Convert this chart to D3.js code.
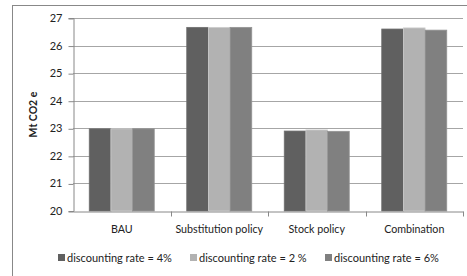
<!DOCTYPE html>
<html>
<head>
<meta charset="utf-8">
<script src="https://cdn.jsdelivr.net/npm/d3@7"></script>
<style>
  body { margin: 0; background: #fff; }
  svg { display: block; font-family: Lato, "Open Sans", sans-serif; }
</style>
</head>
<body>
<div id="vis"></div>
<script>
var categories = ['BAU', 'Substitution policy', 'Stock policy', 'Combination'];
var seriesNames = ['discounting rate = 4%', 'discounting rate = 2 %', 'discounting rate = 6%'];
var rate4 = [22.98, 26.66, 22.90, 26.60];
var rate2 = [22.98, 26.66, 22.94, 26.64];
var rate6 = [22.98, 26.66, 22.89, 26.56];
var yTicks = [20, 21, 22, 23, 24, 25, 26, 27];

var colors = ['#606060', '#b2b2b2', '#808080'];
var seriesValues = [rate4, rate2, rate6];

var width = 467, height = 276;
var margin = { top: 18, left: 73, right: 4, bottom: 65 };

var svg = d3.select('#vis').append('svg')
  .attr('width', width)
  .attr('height', height);

// outer chart frame (right/bottom edges fall outside the crop)
svg.append('rect')
  .attr('x', 12.5).attr('y', 5.5)
  .attr('width', 470).attr('height', 290)
  .attr('fill', 'none')
  .attr('stroke', '#888');

var x0 = d3.scaleBand()
  .domain(categories)
  .range([margin.left, width - margin.right]);

var barW = x0.bandwidth() / 4.5;
var x1 = d3.scaleBand()
  .domain(d3.range(3))
  .range([0, barW * 3]);

var y = d3.scaleLinear()
  .domain([20, 27])
  .range([height - margin.bottom, margin.top]);

// gridlines
svg.append('g')
  .selectAll('line')
  .data(yTicks.slice(1))
  .enter().append('line')
  .attr('x1', margin.left).attr('x2', width - margin.right)
  .attr('y1', function (d) { return Math.round(y(d)) + 0.5; })
  .attr('y2', function (d) { return Math.round(y(d)) + 0.5; })
  .attr('stroke', '#a6a6a6');

// y axis
var yAxis = svg.append('g')
  .attr('transform', 'translate(' + (margin.left + 0.5) + ',0)')
  .call(d3.axisLeft(y).tickValues(yTicks).tickSize(5).tickPadding(6).tickFormat(d3.format('d')));
yAxis.select('.domain').attr('stroke', '#888');
yAxis.selectAll('.tick line').attr('stroke', '#888')
  .attr('transform', 'translate(0,0.5)');
yAxis.selectAll('text').attr('font-size', 11).attr('fill', '#222')
  .attr('font-family', 'Lato, sans-serif');

// bars
var groups = svg.append('g')
  .selectAll('g')
  .data(categories)
  .enter().append('g')
  .attr('transform', function (d) {
    return 'translate(' + (x0(d) + (x0.bandwidth() - barW * 3) / 2) + ',0)';
  });

groups.selectAll('rect')
  .data(function (d, i) {
    return seriesValues.map(function (s, k) { return { k: k, v: s[i] }; });
  })
  .enter().append('rect')
  .attr('x', function (d) { return x1(d.k); })
  .attr('width', x1.bandwidth())
  .attr('y', function (d) { return y(d.v); })
  .attr('height', function (d) { return y(20) - y(d.v); })
  .attr('fill', function (d) { return colors[d.k]; })
  .attr('stroke', function (d) { return d3.rgb(colors[d.k]).brighter(0.4); })
  .attr('stroke-width', 0.8);

// x axis
var xAxis = svg.append('g')
  .attr('transform', 'translate(0,' + (y(20) + 0.5) + ')')
  .call(d3.axisBottom(x0).tickSize(0).tickPadding(14));
xAxis.select('.domain').attr('stroke', '#888');
xAxis.selectAll('text').attr('font-size', 10.7).attr('fill', '#222')
  .attr('font-family', 'Lato, sans-serif');
xAxis.selectAll('.sep')
  .data(categories)
  .enter().append('line')
  .attr('x1', function (d) { return Math.round(x0(d) + x0.bandwidth()) + 0.5; })
  .attr('x2', function (d) { return Math.round(x0(d) + x0.bandwidth()) + 0.5; })
  .attr('y1', 0).attr('y2', 5)
  .attr('stroke', '#888');

// y label
svg.append('text')
  .attr('transform', 'translate(37,' + y(23.5) + ') rotate(-90)')
  .attr('text-anchor', 'middle')
  .attr('font-size', 10.5)
  .attr('font-weight', 'bold')
  .attr('fill', '#222')
  .text('Mt CO2 e');

// legend
var legendX = [58, 190, 325];
var legend = svg.append('g')
  .selectAll('g')
  .data(seriesNames)
  .enter().append('g')
  .attr('transform', function (d, i) { return 'translate(' + legendX[i] + ',254)'; });
legend.append('rect')
  .attr('width', 7).attr('height', 7)
  .attr('fill', function (d, i) { return colors[i]; });
legend.append('text')
  .attr('x', 9).attr('y', 7.5)
  .attr('font-size', 11)
  .attr('fill', '#222')
  .text(function (d) { return d; });
</script>
</body>
</html>
